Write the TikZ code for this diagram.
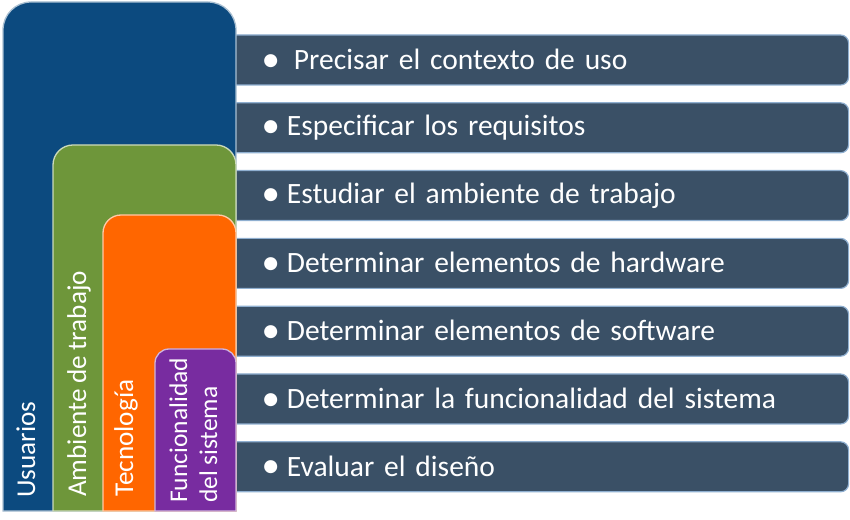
\documentclass[tikz,border=0pt]{standalone}
\usepackage{fontspec}
\setmainfont{Carlito}
\newcommand{\tightspaces}{\spaceskip=0.2em plus 0.05em minus 0.05em\relax}
\newcommand{\bigbullet}{\raisebox{-0.06em}{\scalebox{1.25}{\textbullet}}}
\begin{document}
\begin{tikzpicture}[x=1pt,y=1pt,
  every node/.style={text=white},
  bar/.style={fill=barfill,draw=barline,line width=1.2pt,rounded corners=8pt,
    anchor=west,minimum width=633pt,minimum height=50pt,inner xsep=46pt,
    text width=541pt,align=left,font=\fontsize{29.5}{32}\selectfont\tightspaces},
  sidelabel/.style={rotate=90,anchor=base west,inner sep=0pt,
    font=\fontsize{27.2}{31}\selectfont\tightspaces},
  tier/.style={line width=1.3pt}]
\definecolor{barfill}{HTML}{3A5066}
\definecolor{barline}{HTML}{8FAFD0}
\definecolor{cblue}{HTML}{0C4A7F}
\definecolor{cgreen}{HTML}{6E963A}
\definecolor{corange}{HTML}{FF6600}
\definecolor{cpurple}{HTML}{782CA0}
\useasboundingbox (0,0) rectangle (850,519);

% list of activities
\foreach \i/\txt in {0/{\bigbullet\hspace{14pt}Precisar el contexto de uso},
  1/{\bigbullet\hspace{7pt}Especificar los requisitos},
  2/{\bigbullet\hspace{7pt}Estudiar el ambiente de trabajo},
  3/{\bigbullet\hspace{7pt}Determinar elementos de hardware},
  4/{\bigbullet\hspace{7pt}Determinar elementos de software},
  5/{\bigbullet\hspace{7pt}Determinar la funcionalidad del sistema},
  6/{\bigbullet\hspace{7pt}Evaluar el diseño}}
  \node[bar] (item\i) at (215,{519-35-25-67.8*\i}) {\txt};

% nested tiers, each with rounded top corners
\draw[tier,fill=cblue,draw=cblue!35!white] (3,8) -- (3,489)
  arc[start angle=180,end angle=90,radius=28] -- (208,517)
  arc[start angle=90,end angle=0,radius=28] -- (236,8) -- cycle;
\draw[tier,fill=cgreen,draw=cgreen!35!white] (53,8) -- (53,354)
  arc[start angle=180,end angle=90,radius=20] -- (216,374)
  arc[start angle=90,end angle=0,radius=20] -- (236,8) -- cycle;
\draw[tier,fill=corange,draw=corange!35!white] (103,8) -- (103,286)
  arc[start angle=180,end angle=90,radius=18] -- (218,304)
  arc[start angle=90,end angle=0,radius=18] -- (236,8) -- cycle;
\draw[tier,fill=cpurple,draw=cpurple!35!white] (155,8) -- (155,156)
  arc[start angle=180,end angle=90,radius=14] -- (222,170)
  arc[start angle=90,end angle=0,radius=14] -- (236,8) -- cycle;

% tier labels
\node[sidelabel] (lusers) at (35,21) {Usuarios};
\node[sidelabel] (lenv) at (86,22) {Ambiente de trabajo};
\node[sidelabel] (ltech) at (133,22) {Tecnología};
\node[sidelabel,font=\fontsize{25.5}{29}\selectfont\tightspaces] (lfunc1) at (187,16) {Funcionalidad};
\node[sidelabel,font=\fontsize{25.5}{29}\selectfont\tightspaces] (lfunc2) at (217,16) {del sistema};
\end{tikzpicture}
\end{document}
